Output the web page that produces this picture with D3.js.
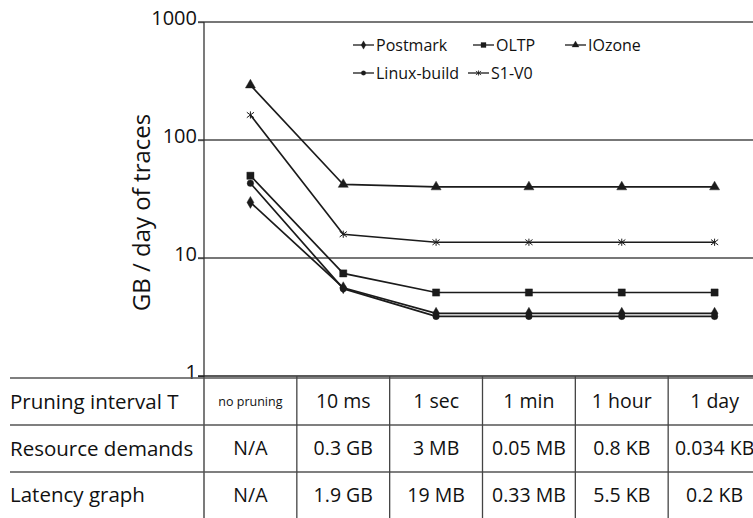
<!DOCTYPE html>
<html>
<head>
<meta charset="utf-8">
<script src="https://cdn.jsdelivr.net/npm/d3@7"></script>
<style>
  html, body { margin: 0; padding: 0; background: #fff; }
  svg { display: block; font-family: "Open Sans", "Noto Sans", sans-serif; }
</style>
</head>
<body>
<svg id="chart" width="753" height="518"></svg>
<script>
// Pruning intervals (x categories) and the trace volume per workload (GB/day)
const intervals = ["no pruning", "10 ms", "1 sec", "1 min", "1 hour", "1 day"];
const postmark   = [29.6, 5.6, 3.4, 3.4, 3.4, 3.4];
const oltp       = [49.8, 7.4, 5.1, 5.1, 5.1, 5.1];
const iozone     = [292, 42, 40, 40, 40, 40];
const linuxBuild = [43, 5.5, 3.2, 3.2, 3.2, 3.2];
const s1v0       = [163, 15.9, 13.6, 13.6, 13.6, 13.6];
const yTicks = [1, 10, 100, 1000];

// Table rows under the chart
const rowLabels = ["Pruning interval T", "Resource demands", "Latency graph"];
const resourceDemands = ["N/A", "0.3 GB", "3 MB", "0.05 MB", "0.8 KB", "0.034 KB"];
const latencyGraph = ["N/A", "1.9 GB", "19 MB", "0.33 MB", "5.5 KB", "0.2 KB"];

const series = [
  { name: "Postmark", values: postmark, symbol: "diamond" },
  { name: "OLTP", values: oltp, symbol: "square" },
  { name: "IOzone", values: iozone, symbol: "triangle" },
  { name: "Linux-build", values: linuxBuild, symbol: "circle" },
  { name: "S1-V0", values: s1v0, symbol: "star" }
];

const svg = d3.select("#chart");
const W = 753;
const ink = "#1b1b1b";

const y = d3.scaleLog().domain([1, 1000]).range([376, 22]);
const x = d3.scaleBand().domain(intervals).range([204, 761]);
const cx = d => x(d) + x.bandwidth() / 2;

// Horizontal grid lines at each decade
svg.append("g").selectAll("line").data(yTicks.filter(t => t > 1)).join("line")
  .attr("x1", 198).attr("x2", W)
  .attr("y1", d => y(d)).attr("y2", d => y(d))
  .attr("stroke", "#4a4a4a").attr("stroke-width", 1.3);

// Left axis with its tick labels
const yAxis = d3.axisLeft(y).tickValues(yTicks).tickFormat(d3.format("d")).tickSize(6).tickPadding(1);
const ag = svg.append("g").attr("transform", "translate(204,0)").call(yAxis);
ag.select(".domain").remove();
ag.selectAll(".tick line").attr("stroke", "#4a4a4a").attr("stroke-width", 1.3);
ag.selectAll(".tick text").attr("font-size", 20).attr("fill", "#111")
  .attr("font-family", "'Open Sans', sans-serif").attr("dy", "0.1em");
svg.append("line").attr("x1", 204).attr("x2", 204).attr("y1", 22).attr("y2", 518)
  .attr("stroke", "#333").attr("stroke-width", 1.3);
svg.append("line").attr("x1", 198).attr("x2", W).attr("y1", y(1)).attr("y2", y(1))
  .attr("stroke", "#222").attr("stroke-width", 1.3);

// Axis title
svg.append("text")
  .attr("transform", `translate(150,${(113 + 312) / 2}) rotate(-90)`)
  .attr("text-anchor", "middle")
  .attr("font-size", 24).attr("fill", "#111")
  .text("GB / day of traces");

// Marker shapes
function markerPath(kind, s) {
  if (kind === "star") {
    const r = s;
    return `M0,${-r}L0,${r}M${-r},${-r * 0.75}L${r},${r * 0.75}M${-r},${r * 0.75}L${r},${-r * 0.75}`;
  }
  const t = { diamond: d3.symbolDiamond, square: d3.symbolSquare, triangle: d3.symbolTriangle, circle: d3.symbolCircle }[kind];
  const size = { diamond: 3.2 * s * s, square: 4 * s * s, triangle: 3.4 * s * s, circle: 2.6 * s * s }[kind];
  return d3.symbol(t, size)();
}

const line = d3.line().x((d, i) => cx(intervals[i])).y(d => y(d));

const plot = svg.append("g");
series.forEach(s => {
  plot.append("path").datum(s.values)
    .attr("d", line)
    .attr("fill", "none").attr("stroke", ink).attr("stroke-width", 1.7);
});
series.forEach(s => {
  plot.append("g").selectAll("path").data(s.values).join("path")
    .attr("transform", (d, i) => `translate(${cx(intervals[i])},${y(d)})`)
    .attr("d", markerPath(s.symbol, s.symbol === "star" ? 3.6 : 3.6))
    .attr("fill", ink)
    .attr("stroke", ink).attr("stroke-width", s.symbol === "star" ? 1.0 : 0.4);
});

// Legend, two rows
const legendPos = [[353, 45], [473, 45], [565, 45], [353, 73], [468, 73]];
series.forEach((s, i) => {
  const [lx, ly] = legendPos[i];
  const g = svg.append("g").attr("transform", `translate(${lx},${ly})`);
  g.append("line").attr("x1", 0).attr("x2", 21).attr("y1", 0).attr("y2", 0)
    .attr("stroke", ink).attr("stroke-width", 1.3);
  g.append("path").attr("transform", "translate(10.5,0)")
    .attr("d", markerPath(s.symbol, s.symbol === "star" ? 2.6 : 2.5))
    .attr("fill", ink).attr("stroke", ink).attr("stroke-width", s.symbol === "star" ? 0.8 : 0.3);
  g.append("text").attr("x", 23).attr("y", 0).attr("dy", "0.35em")
    .attr("font-size", 16).attr("fill", "#111").text(s.name);
});

// Table below the chart
const rowEdges = [378, 425, 472, 518];
svg.append("g").selectAll("line").data(rowEdges.slice(0, 3)).join("line")
  .attr("x1", 10).attr("x2", W).attr("y1", d => d).attr("y2", d => d)
  .attr("stroke", "#555").attr("stroke-width", 1.3);
svg.append("g").selectAll("line").data(intervals.slice(1)).join("line")
  .attr("x1", d => x(d)).attr("x2", d => x(d)).attr("y1", 376).attr("y2", 518)
  .attr("stroke", "#444").attr("stroke-width", 1.3);

const rowMid = i => (rowEdges[i] + rowEdges[i + 1]) / 2;
svg.append("g").selectAll("text").data(rowLabels).join("text")
  .attr("x", 10).attr("y", (d, i) => rowMid(i)).attr("dy", "0.35em")
  .attr("font-size", 20.5).attr("fill", "#111").text(d => d);

const rows = [intervals, resourceDemands, latencyGraph];
rows.forEach((vals, r) => {
  svg.append("g").selectAll("text").data(vals).join("text")
    .attr("x", (d, i) => cx(intervals[i]))
    .attr("y", rowMid(r)).attr("dy", "0.35em")
    .attr("text-anchor", "middle")
    .attr("font-size", (d, i) => (r === 0 && i === 0) ? 12.5 : 19.5)
    .attr("fill", "#111").text(d => d);
});
</script>
</body>
</html>
